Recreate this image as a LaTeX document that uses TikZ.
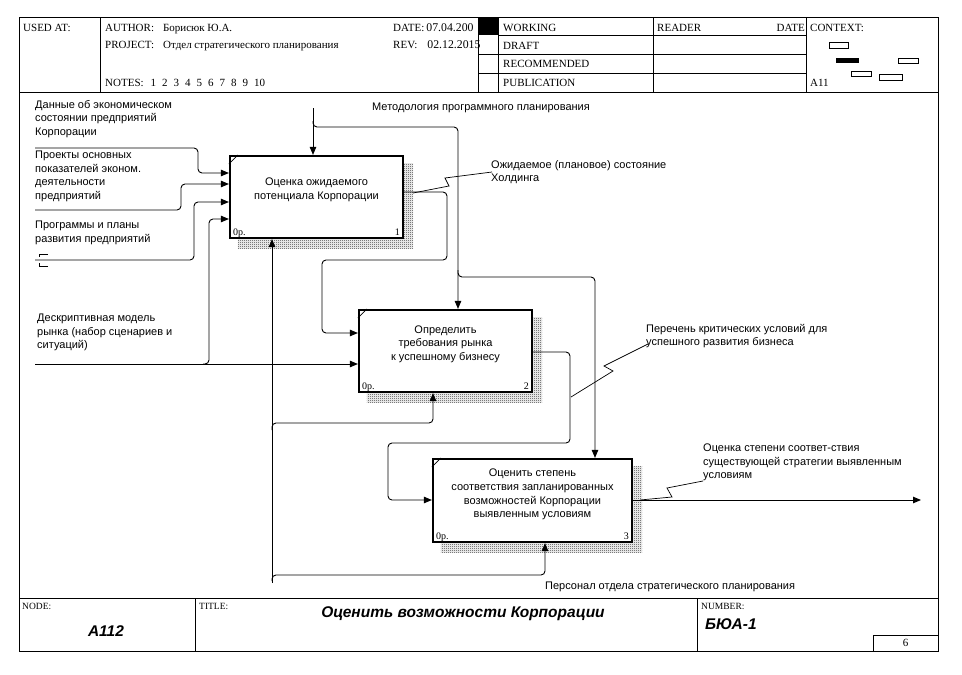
\documentclass[tikz,border=0pt]{standalone}
\usepackage{fontspec}
\setmainfont{Liberation Serif}
\newfontfamily\sansf{Liberation Sans}
\usetikzlibrary{arrows.meta}
\usetikzlibrary{patterns,backgrounds,calc}

\pgfdeclarepatternformonly{checker}{\pgfpointorigin}{\pgfqpoint{2pt}{2pt}}{\pgfqpoint{2pt}{2pt}}{%
  \pgfpathrectangle{\pgfpointorigin}{\pgfqpoint{1pt}{1pt}}%
  \pgfpathrectangle{\pgfqpoint{1pt}{1pt}}{\pgfqpoint{1pt}{1pt}}%
  \pgfusepath{fill}}

\begin{document}
\begin{tikzpicture}[x=1pt,y=-1pt,
  frame/.style={line width=0.9pt},
  func/.style={draw,line width=2.2pt,fill=white,inner sep=0pt},
  functext/.style={font=\sansf\fontsize{11}{13.7}\selectfont,align=center},
  lbl/.style={font=\sansf\fontsize{11}{13.5}\selectfont,align=left,inner sep=0pt,anchor=north west},
  hdr/.style={font=\fontsize{11}{13}\selectfont,inner sep=0pt,anchor=base west},
  ftr/.style={font=\fontsize{9.5}{11}\selectfont,inner sep=0pt,anchor=base west},
  big/.style={font=\sansf\bfseries\itshape\fontsize{15.5}{18}\selectfont,inner sep=0pt,anchor=base},
  flow/.style={line width=0.9pt,rounded corners=4pt,-{Triangle[length=8pt,width=6.5pt]}},
  squig/.style={line width=0.7pt},
  shade/.style={pattern=checker,pattern color=black!80}]
  \useasboundingbox (0,0) rectangle (962,675);

  % frame, header and footer
  \draw[frame] (19,17) rectangle (938,651);
  \draw[frame] (19,92) -- (938,92);
  \draw[frame] (19,598) -- (938,598);
  \foreach \x in {100,478,498,653,806} \draw[frame] (\x,17) -- (\x,92);
  \draw[frame] (498,35) -- (806,35);
  \foreach \y in {54,73} \draw[frame] (478,\y) -- (806,\y);
  \foreach \x in {195,697} \draw[frame] (\x,598) -- (\x,651);
  \draw[frame] (873,635) rectangle (938,651);

  \node[hdr] (usedat) at (23,31.5) {USED AT:};
  \node[hdr] (author) at (105,31.5) {AUTHOR:\hspace{9pt}Борисюк Ю.А.};
  \node[hdr] (project) at (105,48.5) {PROJECT:\hspace{9pt}Отдел стратегического планирования};
  \node[hdr] (notes) at (105,86.5) {NOTES:\hspace{7pt}1\hspace{6pt}2\hspace{6pt}3\hspace{6pt}4\hspace{6pt}5\hspace{6pt}6\hspace{6pt}7\hspace{6pt}8\hspace{6pt}9\hspace{6pt}10};
  \node[hdr] (date) at (393,31.5) {DATE:\hspace{2pt}{\fontsize{11.8}{13}\selectfont 07.04.200}};
  \node[hdr] (rev) at (393,48.5) {REV:\hspace{10pt}{\fontsize{11.8}{13}\selectfont 02.12.2015}};
  \fill (478,17) rectangle (498,35);
  \node[hdr] (working) at (503,31.5) {WORKING};
  \node[hdr] (draft) at (503,49.5) {DRAFT};
  \node[hdr] (recommended) at (503,67) {RECOMMENDED};
  \node[hdr] (publication) at (503,86.5) {PUBLICATION};
  \node[hdr] (reader) at (657,31.5) {READER};
  \node[hdr,anchor=base east] (rdate) at (805,31.5) {DATE};
  \node[hdr] (context) at (810,31.5) {CONTEXT:};
  \node[hdr] (ctxnode) at (810,86.5) {A11};

  % context thumbnails
  \draw[squig] (829,42) rectangle (848,48);
  \fill (836,58) rectangle (859,63);
  \draw[squig] (898,58) rectangle (918,63);
  \draw[squig] (851,71) rectangle (871,76);
  \draw[squig] (879,74) rectangle (902,80);

  \node[ftr] (nodelbl) at (22,609) {NODE:};
  \node[ftr] (titlelbl) at (199,609) {TITLE:};
  \node[ftr] (numlbl) at (701,609) {NUMBER:};
  \node[big] (nodeid) at (106,636) {A112};
  \node[big] (title) at (463,617) {Оценить возможности Корпорации};
  \node[big,anchor=base west] (number) at (705,629) {БЮА-1};
  \node[hdr,anchor=center] (page) at (905.5,643) {6};

  % activity boxes
  \node[func,minimum width=173pt,minimum height=82pt] (b1) at (316.5,197) {};
  \node[func,minimum width=173pt,minimum height=82pt] (b2) at (445.5,351) {};
  \node[func,minimum width=199pt,minimum height=83pt] (b3) at (532.5,500.5) {};
  \begin{scope}[on background layer]
    \foreach \b in {b1,b2,b3}
      \fill[shade] ([shift={(9pt,-9pt)}]\b.south west) rectangle ([shift={(9pt,-9pt)}]\b.north east);
  \end{scope}
  \foreach \b/\n in {b1/1,b2/2,b3/3}{
    \draw[squig] ([yshift=-9pt]\b.north west) -- ([xshift=9pt]\b.north west);
    \node[hdr,font=\fontsize{10}{12}\selectfont] (\b cost) at ([shift={(4pt,4pt)}]\b.south west) {0р.};
    \node[hdr,font=\fontsize{10}{12}\selectfont,anchor=base east] (\b num) at ([shift={(-4pt,4pt)}]\b.south east) {\n};
  }
  \node[functext] (t1) at ([yshift=7pt]b1.center) {Оценка ожидаемого\\потенциала Корпорации};
  \node[functext] (t2) at ([yshift=7pt]b2.center) {Определить\\требования рынка\\к успешному бизнесу};
  \node[functext] (t3) at ([yshift=6pt]b3.center) {Оценить степень\\соответствия запланированных\\возможностей Корпорации\\выявленным условиям};

  % boundary ends
  \coordinate (inA) at (35,148);
  \coordinate (inB) at (35,210);
  \coordinate (inC) at (35,260);
  \coordinate (inD) at (35,364);
  \coordinate (ctl) at (313,108);
  \coordinate (mech) at (272,583);
  \coordinate (outE) at (921,500);

  % inputs
  \draw[flow] (inA) -- (198,148) -- (198,173) -- (b1.west |- 0,173);
  \draw[flow] (inB) -- (181,210) -- (181,184) -- (b1.west |- 0,184);
  \draw[flow] (inC) -- (194,260) -- (194,202) -- (b1.west |- 0,202);
  \draw[squig] (48,254) -- (39,254) -- (39,257);
  \draw[squig] (48,266) -- (39,266) -- (39,263);
  \draw[flow] (inD) -- (b2.west |- inD);
  \draw[flow] (203,364) -- (209,364) -- (209,219) -- (b1.west |- 0,219);

  % controls
  \draw[flow] (ctl) -- (b1.north -| ctl);
  \draw[flow] (313,121) -- (313,127) -- (458,127) -- (b2.north -| 458,0);
  \draw[flow] (458,270) -- (458,277) -- (595,277) -- (b3.north -| 595,0);

  % outputs
  \draw[flow] (b1.east |- 0,192) -- (447,192) -- (447,260) -- (322,260) -- (322,333) -- (b2.west |- 0,333);
  \draw[flow] (b2.east |- 0,352) -- (570,352) -- (570,443) -- (388,443) -- (388,500) -- (b3.west |- 0,500);
  \draw[flow] (b3.east |- outE) -- (outE);

  % mechanisms
  \draw[flow] (mech) -- (b1.south -| mech);
  \draw[flow] (272,430) -- (272,423) -- (433,423) -- (b2.south -| 433,0);
  \draw[flow] (272,581) -- (272,575) -- (545,575) -- (b3.south -| 545,0);

  % squiggles
  \draw[squig] (413,193) -- (449,186) -- (445,178) -- (492,172);
  \draw[squig] (571,397) -- (613,371) -- (604,366) -- (648,344);
  \draw[squig] (640,500) -- (672,497) -- (667,488) -- (703,481);

  % arrow labels
  \node[lbl] (lA) at (35,100) {Данные об экономическом\\состоянии предприятий\\Корпорации};
  \node[lbl] (lB) at (35,151) {Проекты основных\\показателей эконом.\\деятельности\\предприятий};
  \node[lbl] (lC) at (35,221) {Программы и планы\\развития предприятий};
  \node[lbl] (lD) at (37,314) {Дескриптивная модель\\рынка (набор сценариев и\\ситуаций)};
  \node[lbl] (lM) at (372,103) {Методология программного планирования};
  \node[lbl] (lO1) at (491,160) {Ожидаемое (плановое) состояние\\Холдинга};
  \node[lbl] (lO2) at (646,324) {Перечень критических условий для\\успешного развития бизнеса};
  \node[lbl] (lO3) at (703,444) {Оценка степени соответ-ствия\\существующей стратегии выявленным\\условиям};
  \node[lbl] (lP) at (545,582) {Персонал отдела стратегического планирования};
\end{tikzpicture}
\end{document}
